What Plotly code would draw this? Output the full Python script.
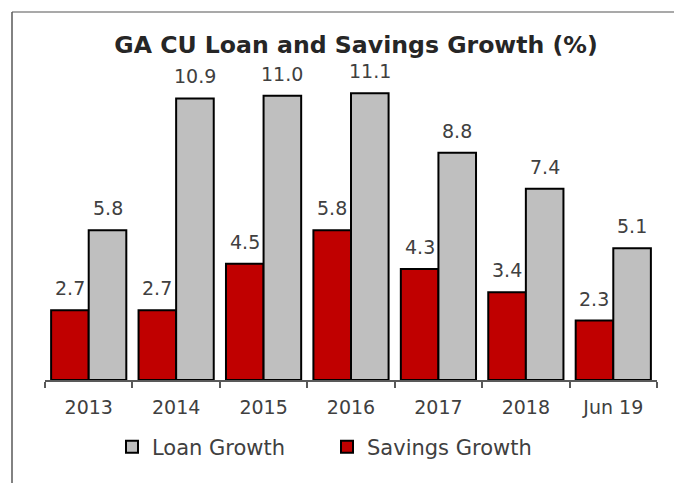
import plotly.graph_objects as go

categories = ["2013", "2014", "2015", "2016", "2017", "2018", "Jun 19"]
savings_growth = [2.7, 2.7, 4.5, 5.8, 4.3, 3.4, 2.3]
loan_growth = [5.8, 10.9, 11.0, 11.1, 8.8, 7.4, 5.1]

OFF = 8  # page body margin
W, H = 682 - OFF, 483 - OFF
ML, MT = 45 - OFF, 70 - OFF
MR = W - (657 - OFF)
MB = H - (380 - OFF)
PW, PH = W - ML - MR, H - MT - MB
BARGAP = 0.14

def px_x(px):
    return (px - OFF - ML) / PW

def px_y(py):
    return (H - MB - (py - OFF)) / PH

FONT = "DejaVu Sans"
TXT = "#404040"

fig = go.Figure()
fig.add_trace(go.Bar(
    name="Savings Growth", x=categories, y=savings_growth,
    marker=dict(color="#C00000", line=dict(color="#000000", width=2)),
))
fig.add_trace(go.Bar(
    name="Loan Growth", x=categories, y=loan_growth,
    marker=dict(color="#BFBFBF", line=dict(color="#000000", width=2)),
))

# value labels placed at the data points, offset to each bar of the group
bar_px = PW / len(categories) * (1 - BARGAP) / 2
annotations = []
for series, sign in ((savings_growth, -1), (loan_growth, 1)):
    for i, v in enumerate(series):
        annotations.append(dict(
            x=i, y=v, xref="x", yref="y", text=f"{v:.1f}", showarrow=False,
            xanchor="center", yanchor="bottom", xshift=sign * bar_px / 2,
            yshift=9, font=dict(family=FONT, size=19, color=TXT)))

fig.update_layout(
    width=W, height=H,
    margin=dict(l=ML, r=MR, t=MT, b=MB),
    paper_bgcolor="white", plot_bgcolor="white",
    barmode="group", bargap=BARGAP, bargroupgap=0,
    font=dict(family=FONT, size=19, color=TXT),
    title=dict(text="<b>GA CU Loan and Savings Growth (%)</b>",
               font=dict(family=FONT, size=23.6, color="#262626"),
               x=(356 - OFF) / W, xanchor="center", xref="container",
               y=1 - (45 - OFF) / H, yanchor="middle", yref="container"),
    xaxis=dict(type="category", categoryorder="array", categoryarray=categories,
               showline=True, linecolor="#595959", linewidth=1.5,
               ticks="outside", tickson="boundaries", ticklen=6,
               tickcolor="#595959", tickwidth=1.5, ticklabelstandoff=9,
               tickangle=0,
               tickfont=dict(family=FONT, size=19, color=TXT),
               showgrid=False),
    yaxis=dict(range=[0, 12], visible=False, showgrid=False),
    showlegend=True,
    legend=dict(orientation="h", traceorder="reversed",
                x=px_x(112), xanchor="left", y=px_y(447), yanchor="middle",
                font=dict(family=FONT, size=21, color=TXT),
                entrywidth=170, bgcolor="rgba(0,0,0,0)"),
    annotations=annotations,
    shapes=[
        dict(type="line", xref="paper", yref="paper",
             x0=px_x(12), x1=px_x(682 + OFF), y0=px_y(12), y1=px_y(12),
             line=dict(color="#8c8c8c", width=1.5)),
        dict(type="line", xref="paper", yref="paper",
             x0=px_x(12), x1=px_x(12), y0=px_y(12), y1=px_y(483 + OFF),
             line=dict(color="#595959", width=1.5)),
    ],
)

fig.write_html("out.html")
